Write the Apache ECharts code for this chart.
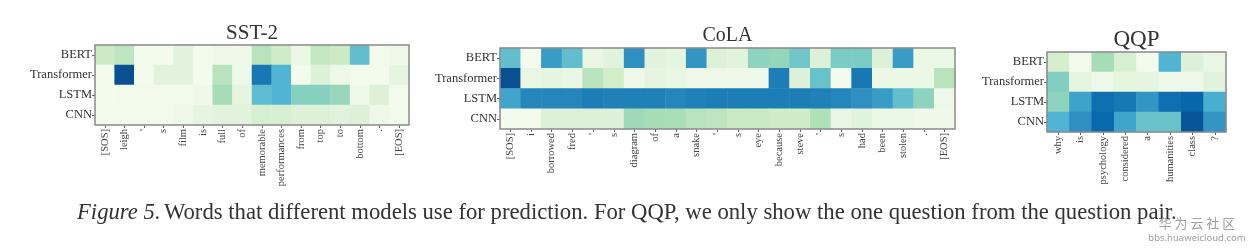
<!DOCTYPE html>
<html><head><meta charset="utf-8">
<script src="https://cdn.jsdelivr.net/npm/echarts@6/dist/echarts.min.js"></script>
<style>html,body{margin:0;padding:0;background:#fff}#c{width:1252px;height:249px}</style>
</head><body><div id="c"></div>
<script>
const models = ['BERT', 'Transformer', 'LSTM', 'CNN'];

const sstTokens = ['[SOS]', 'leigh', "'", 's', 'film', 'is', 'full', 'of', 'memorable', 'performances', 'from', 'top', 'to', 'bottom', '.', '[EOS]'];
const sstBert        = [0.25, 0.30, 0.02, 0.02, 0.12, 0.02, 0.04, 0.04, 0.32, 0.24, 0.06, 0.28, 0.25, 0.57, 0.03, 0.04];
const sstTransformer = [0.02, 0.95, 0.02, 0.12, 0.12, 0.02, 0.32, 0.05, 0.82, 0.62, 0.03, 0.15, 0.05, 0.02, 0.02, 0.10];
const sstLstm        = [0.02, 0.03, 0.03, 0.03, 0.03, 0.04, 0.38, 0.10, 0.58, 0.62, 0.47, 0.47, 0.42, 0.05, 0.15, 0.03];
const sstCnn         = [0.03, 0.03, 0.03, 0.03, 0.05, 0.10, 0.12, 0.12, 0.18, 0.18, 0.15, 0.15, 0.12, 0.15, 0.05, 0.03];

const colaTokens = ['[SOS]', 'i', 'borrowed', 'fred', "'", 's', 'diagram', 'of', 'a', 'snake', "'", 's', 'eye', 'because', 'steve', "'", 's', 'had', 'been', 'stolen', '.', '[EOS]'];
const colaBert        = [0.57, 0.02, 0.70, 0.57, 0.08, 0.12, 0.74, 0.12, 0.10, 0.72, 0.15, 0.12, 0.45, 0.43, 0.53, 0.15, 0.50, 0.50, 0.15, 0.70, 0.06, 0.06];
const colaTransformer = [0.95, 0.08, 0.10, 0.08, 0.32, 0.22, 0.05, 0.10, 0.08, 0.05, 0.05, 0.05, 0.05, 0.80, 0.15, 0.55, 0.02, 0.82, 0.06, 0.06, 0.06, 0.32];
const colaLstm        = [0.67, 0.77, 0.77, 0.77, 0.80, 0.79, 0.79, 0.79, 0.77, 0.79, 0.80, 0.80, 0.80, 0.80, 0.80, 0.79, 0.77, 0.74, 0.70, 0.57, 0.45, 0.05];
const colaCnn         = [0.02, 0.03, 0.15, 0.15, 0.15, 0.15, 0.40, 0.38, 0.37, 0.32, 0.30, 0.26, 0.26, 0.23, 0.23, 0.35, 0.08, 0.12, 0.06, 0.06, 0.04, 0.04];

const qqpTokens = ['why', 'is', 'psychology', 'considered', 'a', 'humanities', 'class', '?'];
const qqpBert        = [0.20, 0.03, 0.38, 0.18, 0.03, 0.62, 0.15, 0.08];
const qqpTransformer = [0.48, 0.10, 0.05, 0.10, 0.10, 0.05, 0.05, 0.12];
const qqpLstm        = [0.45, 0.68, 0.85, 0.82, 0.72, 0.85, 0.88, 0.64];
const qqpCnn         = [0.62, 0.74, 0.87, 0.67, 0.55, 0.55, 0.93, 0.72];

const panelTitles = ['SST-2', 'CoLA', 'QQP'];
const captionLead = 'Figure 5.';
const captionBody = 'Words that different models use for prediction. For QQP, we only show the one question from the question pair.';

const panels = [
  { tokens: sstTokens, rows: [sstBert, sstTransformer, sstLstm, sstCnn], titleSize: 21, grid: { left: 95, top: 45, width: 314, height: 80 } },
  { tokens: colaTokens, rows: [colaBert, colaTransformer, colaLstm, colaCnn], titleSize: 20, grid: { left: 500, top: 48, width: 455, height: 81 } },
  { tokens: qqpTokens, rows: [qqpBert, qqpTransformer, qqpLstm, qqpCnn], titleSize: 23, grid: { left: 1047, top: 52, width: 179, height: 80 } }
];

const serif = '"Liberation Serif", "DejaVu Serif", serif';
const GnBu = ['#f7fcf0', '#e0f3db', '#ccebc5', '#a8ddb5', '#7bccc4', '#4eb3d3', '#2b8cbe', '#0868ac', '#084081'];

const grids = [], xAxes = [], yAxes = [], series = [], graphics = [];
panels.forEach((p, i) => {
  grids.push(Object.assign({ show: true, borderColor: '#8a8a8a', borderWidth: 1.5, backgroundColor: 'transparent', z: 10 }, p.grid));
  xAxes.push({
    type: 'category', gridIndex: i, data: p.tokens,
    axisLine: { show: false },
    axisTick: { show: true, alignWithLabel: true, length: 3, lineStyle: { color: '#666' } },
    axisLabel: { rotate: 90, interval: 0, fontFamily: serif, fontSize: 10.5, color: '#444', margin: 4 },
    splitLine: { show: false }
  });
  yAxes.push({
    type: 'category', gridIndex: i, data: models, inverse: true,
    axisLine: { show: false },
    axisTick: { show: true, alignWithLabel: true, length: 3, lineStyle: { color: '#666' } },
    axisLabel: { interval: 0, fontFamily: serif, fontSize: 12.5, color: '#333', margin: 3 },
    splitLine: { show: false }
  });
  const data = [];
  p.rows.forEach((row, r) => row.forEach((v, c) => data.push([c, r, v])));
  series.push({ type: 'heatmap', xAxisIndex: i, yAxisIndex: i, data: data, itemStyle: { borderWidth: 0 }, emphasis: { disabled: true } });
  graphics.push({
    type: 'text', x: p.grid.left + p.grid.width / 2, y: p.grid.top - 12,
    style: { text: panelTitles[i], font: p.titleSize + 'px ' + serif, fill: '#333', textAlign: 'center', textVerticalAlign: 'middle' }
  });
});

graphics.push({
  type: 'text', x: 77, y: 213,
  style: {
    text: '{i|' + captionLead + '} {n|' + captionBody + '}',
    textVerticalAlign: 'middle',
    rich: {
      i: { font: 'italic 22.7px ' + serif, fill: '#333' },
      n: { font: '22.7px ' + serif, fill: '#333' }
    }
  }
});
graphics.push({
  type: 'text', x: 1197, y: 223,
  style: { text: '华 为 云 社 区', font: '13px "Noto Sans CJK SC", sans-serif', fill: '#a0a0a0', textAlign: 'center', textVerticalAlign: 'middle' }
});
graphics.push({
  type: 'text', x: 1197, y: 238,
  style: { text: 'bbs.huaweicloud.com', font: '9.5px "Noto Sans", sans-serif', fill: '#a0a0a0', textAlign: 'center', textVerticalAlign: 'middle' }
});

const chart = echarts.init(document.getElementById('c'), null, { renderer: 'canvas' });
chart.setOption({
  animation: false,
  backgroundColor: '#ffffff',
  grid: grids,
  xAxis: xAxes,
  yAxis: yAxes,
  visualMap: { show: false, type: 'continuous', min: 0, max: 1, seriesIndex: [0, 1, 2], inRange: { color: GnBu } },
  series: series,
  graphic: graphics
});
</script>
</body></html>
